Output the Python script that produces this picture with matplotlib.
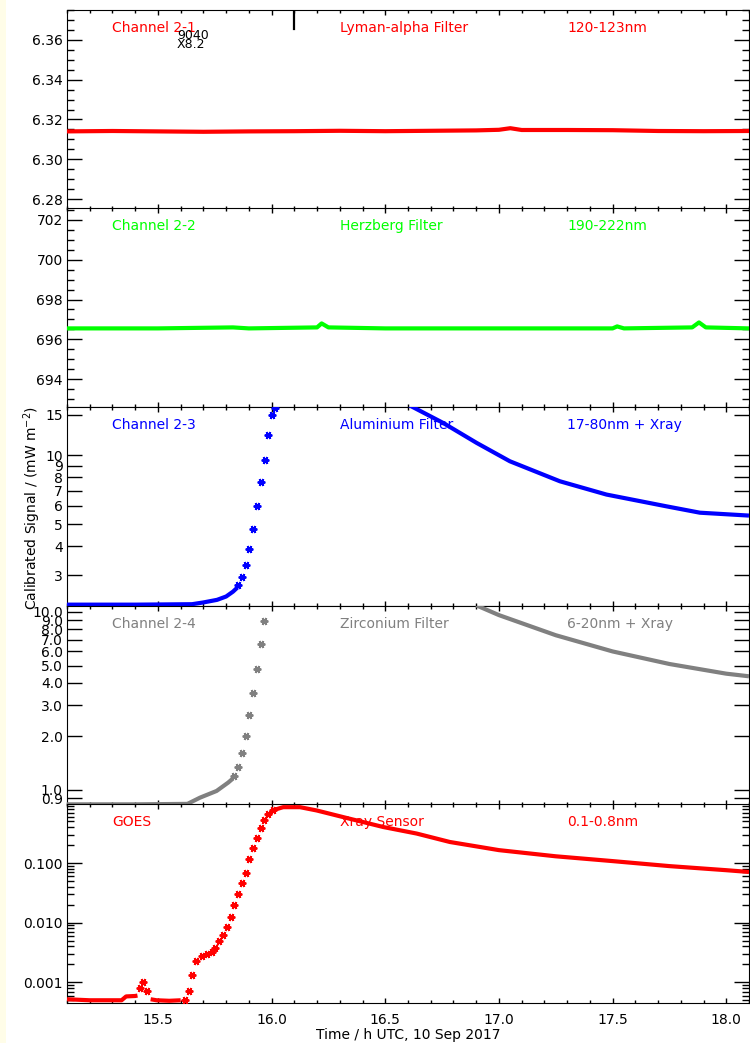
import matplotlib
matplotlib.use("Agg")
import matplotlib.pyplot as plt
from matplotlib.patches import Rectangle
from matplotlib.ticker import (FixedLocator, MultipleLocator, FormatStrFormatter,
                               LogLocator, NullFormatter, NullLocator)

RED = "#ff0000"; GREEN = "#00ff00"; BLUE = "#0000ff"; GREY = "#808080"

# ---- data (time in h UTC) ----
# Channel 2-1 (Lyman-alpha)
t21 = [15.1, 15.3, 15.5, 15.7, 15.9, 16.1, 16.3, 16.5, 16.7, 16.9, 17.0, 17.05, 17.1, 17.3, 17.5, 17.7, 17.9, 18.1]
v21 = [6.3140, 6.3142, 6.3140, 6.3138, 6.3140, 6.3141, 6.3143, 6.3141, 6.3143, 6.3145, 6.3148, 6.3156, 6.3147,
       6.3147, 6.3146, 6.3142, 6.3141, 6.3142]

# Channel 2-2 (Herzberg)
t22 = [15.1, 15.5, 15.83, 15.9, 16.2, 16.22, 16.25, 16.5, 17.0, 17.5, 17.52, 17.55, 17.85, 17.88, 17.91, 18.1]
v22 = [696.55, 696.55, 696.6, 696.55, 696.6, 696.8, 696.6, 696.55, 696.55, 696.55, 696.65, 696.55, 696.6,
       696.85, 696.6, 696.55]

# Channel 2-3 (Aluminium): pre-flare band, sparse rise points, decay band
t23_pre = [15.1, 15.4, 15.65, 15.70, 15.76, 15.80, 15.83, 15.85]
v23_pre = [2.23, 2.23, 2.24, 2.28, 2.34, 2.42, 2.54, 2.65]
t23_rise = [15.851, 15.868, 15.886, 15.900, 15.918, 15.936, 15.953, 15.971, 15.983, 16.003, 16.015]
v23_rise = [2.72, 2.94, 3.32, 3.91, 4.78, 5.99, 7.62, 9.56, 12.2, 14.9, 16.1]
t23_dec = [16.60, 16.755, 16.902, 17.048, 17.268, 17.473, 17.737, 17.884, 18.1]
v23_dec = [16.6, 13.8, 11.3, 9.4, 7.69, 6.73, 5.98, 5.61, 5.45]

# Channel 2-4 (Zirconium)
t24_pre = [15.1, 15.4, 15.63, 15.685, 15.758, 15.809, 15.83]
v24_pre = [0.83, 0.83, 0.835, 0.905, 0.987, 1.10, 1.16]
t24_rise = [15.836, 15.851, 15.868, 15.886, 15.900, 15.918, 15.936, 15.953, 15.968]
v24_rise = [1.19, 1.35, 1.61, 2.02, 2.62, 3.50, 4.76, 6.60, 8.93]
t24_dec = [16.90, 17.0, 17.25, 17.5, 17.75, 18.0, 18.1]
v24_dec = [10.9, 9.6, 7.4, 6.0, 5.1, 4.5, 4.35]

# GOES X-ray sensor 0.1-0.8 nm
tg_pre1 = [15.1, 15.20, 15.34, 15.36, 15.40, 15.41]
vg_pre1 = [0.00052, 0.0005, 0.0005, 0.00058, 0.00059, 0.0006]
tg_pts = [15.421, 15.436, 15.45, 15.619, 15.638, 15.651, 15.667, 15.692, 15.714, 15.736, 15.751, 15.770,
          15.785, 15.802, 15.820, 15.836, 15.853, 15.871, 15.887, 15.902, 15.917, 15.936, 15.953, 15.968,
          15.985, 16.007]
vg_pts = [0.00079, 0.00103, 0.00072, 0.00051, 0.00072, 0.00134, 0.00226, 0.00275, 0.00304, 0.0032, 0.00379,
          0.00488, 0.0063, 0.00848, 0.0127, 0.02, 0.0304, 0.0459, 0.0673, 0.115, 0.176, 0.264, 0.387, 0.52,
          0.673, 0.764]
tg_pre2 = [15.468, 15.494, 15.55, 15.60]
vg_pre2 = [0.00052, 0.0005, 0.00049, 0.0005]
tg_dec = [16.02, 16.051, 16.125, 16.198, 16.345, 16.491, 16.638, 16.784, 17.0, 17.25, 17.5, 17.75, 18.0, 18.1]
vg_dec = [0.80, 0.867, 0.867, 0.764, 0.553, 0.403, 0.313, 0.226, 0.165, 0.13, 0.108, 0.089, 0.076, 0.071]

W, H = 750, 1043
fig = plt.figure(figsize=(W / 100, H / 100), dpi=100)
fig.patches.append(Rectangle((0, 0), 6 / W, 1, transform=fig.transFigure, fc="#fffde8", ec="none"))

tops = [10, 208, 407, 606, 804]
ph = 199
axes = [fig.add_axes([67 / W, 1 - (t + ph) / H, 682 / W, ph / H]) for t in tops]

STAR = (6, 2, 90)


def band(ax, t, v, col):
    ax.plot(t, v, color=col, lw=3.0, solid_capstyle="butt", zorder=3)


def stars(ax, t, v, col):
    ax.plot(t, v, ls="none", marker=STAR, ms=5.5, mew=1.4, color=col, zorder=3)


def labels(ax, col, texts):
    for x, s in zip([15.3, 16.3, 17.3], texts):
        ax.text(x, 0.91, s, transform=ax.get_xaxis_transform(), color=col, fontsize=10,
                ha="left", va="center", zorder=1)


for i, ax in enumerate(axes):
    ax.set_xlim(15.1, 18.1)
    ax.xaxis.set_major_locator(MultipleLocator(0.5))
    ax.xaxis.set_minor_locator(MultipleLocator(0.1))
    ax.tick_params(which="both", direction="in", top=True, right=True, labelsize=10, width=1)
    ax.tick_params(axis="y", which="major", length=10.5, pad=3)
    ax.tick_params(axis="y", which="minor", length=5)
    ax.tick_params(axis="x", which="major", length=3.5, pad=7)
    ax.tick_params(axis="x", which="minor", length=2)
    if i < 4:
        ax.tick_params(axis="x", labelbottom=False)
    else:
        ax.xaxis.set_major_formatter(FormatStrFormatter("%.1f"))

# panel 1
ax = axes[0]
band(ax, t21, v21, RED)
ax.set_ylim(6.275, 6.375)
ax.yaxis.set_major_locator(MultipleLocator(0.02))
ax.yaxis.set_minor_locator(MultipleLocator(0.005))
ax.yaxis.set_major_formatter(FormatStrFormatter("%.2f"))
labels(ax, RED, ["Channel 2-1", "Lyman-alpha Filter", "120-123nm"])
ax.text(15.584, 0.87, "9040", transform=ax.get_xaxis_transform(), fontsize=9, va="center", ha="left")
ax.text(15.584, 0.825, "X8.2", transform=ax.get_xaxis_transform(), fontsize=9, va="center", ha="left")
ax.axvline(16.1, ymin=0.905, ymax=1.0, color="black", lw=1.6)

# panel 2
ax = axes[1]
band(ax, t22, v22, GREEN)
ax.set_ylim(692.6, 702.6)
ax.yaxis.set_major_locator(MultipleLocator(2))
ax.yaxis.set_minor_locator(MultipleLocator(0.5))
ax.yaxis.set_major_formatter(FormatStrFormatter("%d"))
labels(ax, GREEN, ["Channel 2-2", "Herzberg Filter", "190-222nm"])

# panel 3
ax = axes[2]
band(ax, t23_pre, v23_pre, BLUE)
stars(ax, t23_rise, v23_rise, BLUE)
band(ax, t23_dec, v23_dec, BLUE)
ax.set_yscale("log")
ax.set_ylim(2.2, 16.2)
ax.yaxis.set_major_locator(FixedLocator([3, 4, 5, 6, 7, 8, 9, 10, 15]))
ax.yaxis.set_major_formatter(FormatStrFormatter("%d"))
ax.yaxis.set_minor_locator(NullLocator())
labels(ax, BLUE, ["Channel 2-3", "Aluminium Filter", "17-80nm + Xray"])

# panel 4
ax = axes[3]
band(ax, t24_pre, v24_pre, GREY)
stars(ax, t24_rise, v24_rise, GREY)
band(ax, t24_dec, v24_dec, GREY)
ax.set_yscale("log")
ax.set_ylim(0.823, 10.8)
ax.yaxis.set_major_locator(FixedLocator([0.9, 1, 2, 3, 4, 5, 6, 7, 8, 9, 10]))
ax.yaxis.set_major_formatter(FormatStrFormatter("%.1f"))
ax.yaxis.set_minor_locator(NullLocator())
labels(ax, GREY, ["Channel 2-4", "Zirconium Filter", "6-20nm + Xray"])

# panel 5
ax = axes[4]
band(ax, tg_pre1, vg_pre1, RED)
band(ax, tg_pre2, vg_pre2, RED)
stars(ax, tg_pts, vg_pts, RED)
band(ax, tg_dec, vg_dec, RED)
ax.set_yscale("log")
ax.set_ylim(0.00045, 0.98)
ax.yaxis.set_major_locator(FixedLocator([0.001, 0.01, 0.1]))
ax.yaxis.set_major_formatter(FormatStrFormatter("%.3f"))
ax.yaxis.set_minor_locator(LogLocator(base=10, subs=range(2, 10)))
ax.yaxis.set_minor_formatter(NullFormatter())
labels(ax, RED, ["GOES", "Xray Sensor", "0.1-0.8nm"])
ax.set_xlabel("Time / h UTC, 10 Sep 2017", fontsize=10, labelpad=1)

fig.text(0.043, 1 - 508 / H, "Calibrated Signal / (mW m$^{-2}$)", rotation=90, fontsize=10,
         ha="center", va="center")

fig.savefig("out.png", dpi=100)
